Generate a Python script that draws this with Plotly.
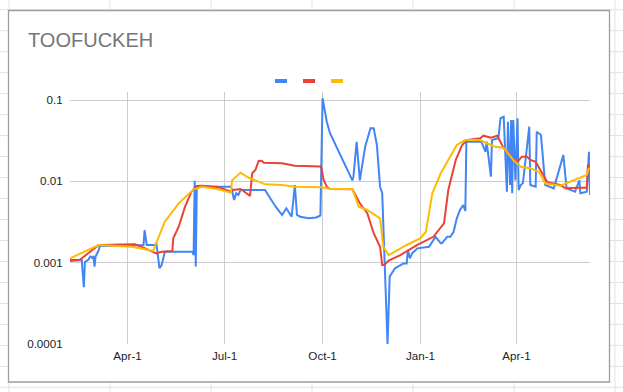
import plotly.graph_objects as go

# ---------------- data ----------------
blue_dates = [
    "2018-02-06", "2018-02-17", "2018-02-19", "2018-02-20", "2018-02-23", "2018-02-25",
    "2018-02-27", "2018-02-28", "2018-03-01", "2018-03-02", "2018-03-05", "2018-03-06",
    "2018-04-16", "2018-04-17", "2018-04-19", "2018-04-27", "2018-04-28", "2018-05-01",
    "2018-05-03", "2018-05-06", "2018-06-01", "2018-06-02", "2018-06-03", "2018-06-04",
    "2018-06-05", "2018-06-08", "2018-07-07", "2018-07-08", "2018-07-10", "2018-07-12",
    "2018-07-14", "2018-07-16", "2018-08-08", "2018-08-18", "2018-08-24", "2018-08-28",
    "2018-09-02", "2018-09-05", "2018-09-07", "2018-09-10", "2018-09-18", "2018-09-25",
    "2018-09-29", "2018-10-01", "2018-10-05", "2018-10-08", "2018-10-29", "2018-10-30",
    "2018-11-02", "2018-11-05", "2018-11-10", "2018-11-15", "2018-11-18", "2018-11-21",
    "2018-11-24", "2018-11-26", "2018-11-28", "2018-12-01", "2018-12-03", "2018-12-08",
    "2018-12-16", "2018-12-19", "2018-12-20", "2018-12-22", "2018-12-24", "2018-12-29",
    "2019-01-09", "2019-01-15", "2019-01-20", "2019-01-21", "2019-01-26", "2019-01-29",
    "2019-02-01", "2019-02-04", "2019-02-07", "2019-02-10", "2019-02-12", "2019-02-13",
    "2019-02-15", "2019-02-27", "2019-03-03", "2019-03-04", "2019-03-08", "2019-03-09",
    "2019-03-15", "2019-03-17", "2019-03-20", "2019-03-23", "2019-03-24", "2019-03-26",
    "2019-03-27", "2019-03-28", "2019-03-29", "2019-03-31", "2019-04-02", "2019-04-03",
    "2019-04-05", "2019-04-07", "2019-04-13", "2019-04-14", "2019-04-19", "2019-04-20",
    "2019-04-24", "2019-04-28", "2019-05-06", "2019-05-15", "2019-05-18", "2019-05-26",
    "2019-05-30", "2019-05-31", "2019-06-06", "2019-06-08", "2019-06-09",
]
blue_values = [
    0.00105, 0.00108, 0.000498, 0.00102, 0.00108, 0.00119,
    0.00114, 0.00121, 0.000895, 0.00119, 0.00143, 0.00160,
    0.00165, 0.00252, 0.00165, 0.00165, 0.00175, 0.000853,
    0.000935, 0.00136, 0.00136, 0.00124, 0.01018, 0.000895,
    0.00859, 0.00859, 0.00859, 0.00782, 0.00589, 0.00713,
    0.00679, 0.00782, 0.00782, 0.00488, 0.00386, 0.00466,
    0.00367, 0.00901, 0.00386, 0.00367, 0.00351, 0.00359,
    0.00380, 0.105, 0.0541, 0.0390, 0.01026, 0.01140,
    0.0307, 0.01026, 0.0267, 0.0449, 0.0449, 0.0280,
    0.00859, 0.00713, 0.00119, 0.0001, 0.000673, 0.000853,
    0.000979, 0.000979, 0.00143, 0.00113, 0.00130, 0.00150,
    0.00157, 0.00208, 0.00173, 0.00173, 0.00208, 0.00208,
    0.00240, 0.00351, 0.00444, 0.00512, 0.00432, 0.0307,
    0.0307, 0.0307, 0.0231, 0.0307, 0.01140, 0.0322,
    0.0338, 0.0596, 0.0623, 0.00746, 0.0541, 0.00901,
    0.0568, 0.00713, 0.0568, 0.01026, 0.0596, 0.00782,
    0.00901, 0.00946, 0.0470, 0.00901, 0.00859, 0.0407,
    0.0371, 0.00901, 0.00820, 0.0211, 0.00820, 0.00746,
    0.01026, 0.00713, 0.00746, 0.0231, 0.00679,
]

red_dates = [
    "2018-02-06", "2018-02-15", "2018-03-05", "2018-04-08", "2018-04-17", "2018-04-28",
    "2018-05-03", "2018-05-13", "2018-05-14", "2018-05-19", "2018-05-25", "2018-05-31",
    "2018-06-05", "2018-06-10", "2018-06-25", "2018-07-07", "2018-07-09", "2018-07-16",
    "2018-07-20", "2018-07-25", "2018-07-27", "2018-07-30", "2018-08-02", "2018-08-05",
    "2018-08-07", "2018-08-24", "2018-09-05", "2018-09-29", "2018-09-30", "2018-10-02",
    "2018-10-05", "2018-10-08", "2018-10-29", "2018-11-05", "2018-11-12", "2018-11-18",
    "2018-11-24", "2018-11-26", "2018-11-28", "2018-12-02", "2018-12-13", "2018-12-29",
    "2019-01-13", "2019-01-23", "2019-01-27", "2019-02-03", "2019-02-09", "2019-02-14",
    "2019-02-26", "2019-03-01", "2019-03-08", "2019-03-14", "2019-03-20", "2019-03-28",
    "2019-04-02", "2019-04-06", "2019-04-11", "2019-04-14", "2019-04-19", "2019-04-24",
    "2019-04-30", "2019-05-12", "2019-05-17", "2019-05-28", "2019-06-06", "2019-06-07",
    "2019-06-09",
]
red_values = [
    0.00108, 0.00108, 0.00165, 0.00168, 0.00151, 0.00130,
    0.00136, 0.00139, 0.00201, 0.00277, 0.00488, 0.00746,
    0.00877, 0.00884, 0.00851, 0.00746, 0.00782, 0.00805,
    0.00739, 0.00661, 0.01256, 0.01378, 0.01778, 0.01794,
    0.01694, 0.01667, 0.01556, 0.0152, 0.0146, 0.01038,
    0.00859, 0.00805, 0.00798, 0.00537, 0.00405, 0.00230,
    0.00157, 0.000935, 0.000935, 0.00106, 0.00124, 0.00165,
    0.00208, 0.00305, 0.00782, 0.0183, 0.0280, 0.0322,
    0.0338, 0.0364, 0.0344, 0.0364, 0.0255, 0.0192,
    0.0174, 0.0201, 0.0201, 0.0183, 0.0174, 0.0131,
    0.00973, 0.00901, 0.00820, 0.00835, 0.00835, 0.0159,
    0.0150,
]

yellow_dates = [
    "2018-02-06", "2018-03-05", "2018-04-05", "2018-04-25", "2018-05-06", "2018-05-19",
    "2018-06-02", "2018-06-10", "2018-06-25", "2018-07-07", "2018-07-08", "2018-07-13",
    "2018-07-16", "2018-07-23", "2018-08-08", "2018-08-24", "2018-09-05", "2018-09-30",
    "2018-10-08", "2018-10-29", "2018-11-04", "2018-11-12", "2018-11-24", "2018-11-27",
    "2018-12-02", "2018-12-07", "2018-12-19", "2019-01-01", "2019-01-06", "2019-01-12",
    "2019-01-20", "2019-01-27", "2019-02-04", "2019-02-12", "2019-02-26", "2019-03-04",
    "2019-03-12", "2019-03-20", "2019-03-29", "2019-04-05", "2019-04-14", "2019-04-22",
    "2019-04-28", "2019-05-12", "2019-05-22", "2019-05-31", "2019-06-06", "2019-06-08",
]
yellow_values = [
    0.00113, 0.00165, 0.00157, 0.00140, 0.00319, 0.00537,
    0.00798, 0.00859, 0.00798, 0.00725, 0.01028, 0.01197,
    0.01277, 0.01122, 0.00919, 0.00901, 0.00859, 0.00845,
    0.00805, 0.00805, 0.00488, 0.00444, 0.00351, 0.00157,
    0.00124, 0.00135, 0.00165, 0.00200, 0.00240, 0.00713,
    0.01256, 0.0183, 0.0280, 0.0322, 0.0322, 0.0294,
    0.0267, 0.0259, 0.0183, 0.0151, 0.0145, 0.0131,
    0.00946, 0.00884, 0.01005, 0.01107, 0.01197, 0.0147,
]

x_tick_dates = ["2018-04-01", "2018-07-01", "2018-10-01", "2019-01-01", "2019-04-01"]
x_tick_labels = ["Apr-1", "Jul-1", "Oct-1", "Jan-1", "Apr-1"]
y_tick_values = [0.0001, 0.001, 0.01, 0.1]
y_tick_labels = ["0.0001", "0.001", "0.01", "0.1"]

series_colors = ["#4285F4", "#EA4335", "#FBBC04"]
title_text = "TOOFUCKEH"

# ---------------- layout geometry (pixels) ----------------
W_PX, H_PX = 623, 392
PL, PR, PT, PB = 70, 590, 92, 344
PW, PH = PR - PL, PB - PT


def px(xp):
    return (xp - PL) / PW


def py(yp):
    return (PB - yp) / PH


fig = go.Figure()
for d, v, c in [(blue_dates, blue_values, series_colors[0]),
                (red_dates, red_values, series_colors[1]),
                (yellow_dates, yellow_values, series_colors[2])]:
    fig.add_trace(go.Scatter(x=d, y=v, mode="lines",
                             line=dict(color=c, width=2), showlegend=False,
                             hoverinfo="skip"))

shapes = []
# spreadsheet grid behind the chart
grid_c = "#e2e2e2"
for gx in [9, 110, 211, 312, 413, 514, 615]:
    shapes.append(dict(type="line", xref="paper", yref="paper",
                       x0=px(gx), x1=px(gx), y0=py(0), y1=py(W_PX),
                       line=dict(color=grid_c, width=1), layer="below"))
for k in range(-1, 19):
    gy = 30.7 + 20.98 * k
    shapes.append(dict(type="line", xref="paper", yref="paper",
                       x0=px(0), x1=px(W_PX), y0=py(gy), y1=py(gy),
                       line=dict(color=grid_c, width=1), layer="below"))
# chart box
shapes.append(dict(type="rect", xref="paper", yref="paper",
                   x0=px(8.5), x1=px(609.5), y0=py(10.5), y1=py(382),
                   fillcolor="white", line=dict(color="#9e9e9e", width=1.3),
                   layer="below"))
# legend swatches
for i, c in enumerate(series_colors):
    x0 = 275 + i * 28
    shapes.append(dict(type="rect", xref="paper", yref="paper",
                       x0=px(x0), x1=px(x0 + 12), y0=py(83), y1=py(79),
                       fillcolor=c, line=dict(width=0), layer="above"))

fig.update_layout(
    width=W_PX, height=H_PX,
    margin=dict(l=PL, r=W_PX - PR, t=PT, b=H_PX - PB, pad=0),
    paper_bgcolor="white", plot_bgcolor="rgba(0,0,0,0)",
    font=dict(family="Liberation Sans, Arial, sans-serif", size=12, color="#222222"),
    title=dict(text=title_text, xref="container", yref="container",
               x=28 / W_PX, y=1 - 40 / H_PX, xanchor="left", yanchor="middle",
               font=dict(size=20, color="#757575")),
    showlegend=False,
    shapes=shapes,
)
fig.update_xaxes(range=["2018-02-06", "2019-06-09"], tickvals=x_tick_dates,
                 ticktext=x_tick_labels, showgrid=True, gridcolor="#cccccc",
                 gridwidth=1, zeroline=False, showline=False, ticks="outside",
                 ticklen=1, tickcolor="rgba(0,0,0,0)", tickfont=dict(size=11.6))
fig.update_yaxes(type="log", range=[-4, -0.9016], tickvals=y_tick_values,
                 ticktext=y_tick_labels, showgrid=True, gridcolor="#cccccc",
                 gridwidth=1, zeroline=False, showline=False, ticks="outside",
                 ticklen=4, tickcolor="rgba(0,0,0,0)", tickfont=dict(size=11.6))

fig.write_html("out.html", config={"displayModeBar": False},
               post_script="document.body.style.margin='0';"
                           "document.body.style.overflow='hidden';")
